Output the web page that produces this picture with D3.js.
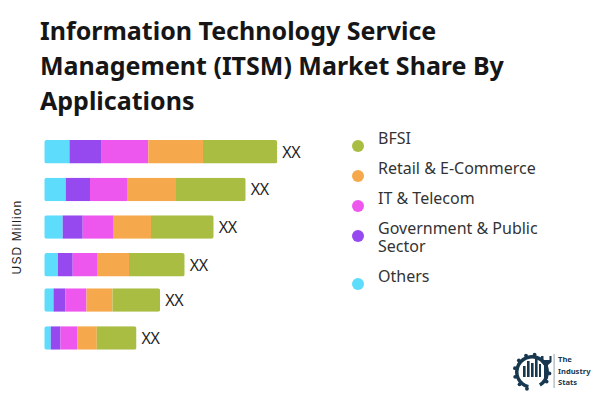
<!DOCTYPE html>
<html><head><meta charset="utf-8">
<script src="https://cdn.jsdelivr.net/npm/d3@7/dist/d3.min.js"></script>
<style>html,body{margin:0;padding:0;background:#fff}svg{display:block}</style>
</head><body><svg id="c" width="600" height="400"></svg>
<script>
const titleLines=["Information Technology Service","Management (ITSM) Market Share By","Applications"];
const categories=["A","B","C","D","E","F"];
const others=[25.2,21.4,18.4,13.7,9.2,6.5];
const government=[32.2,24.3,20,14.7,12,9.7];
const itTelecom=[46.6,37,31,25,21,17];
const retail=[54.7,49,37.3,31.3,26,19.3];
const bfsi=[74.3,69.7,62.7,55.7,47.7,39.7];
const labels=["XX","XX","XX","XX","XX","XX"];
const legendLines=[["BFSI"],["Retail & E-Commerce"],["IT & Telecom"],["Government & Public","Sector"],["Others"]];
const colors=["#5ddcfb","#9549ee","#ee57ee","#f6a94c","#a8bd42"];
const legendColors=["#a8bd42","#f6a94c","#ee57ee","#9549ee","#5ddcfb"];
const font="'Noto Sans','Open Sans',sans-serif";
const svg=d3.select("#c");
const ink="#1f1f1f";

svg.append("g").selectAll("text").data(titleLines).join("text")
 .attr("x",40).attr("y",(d,i)=>40+i*34.8)
 .attr("font-family",font).attr("font-weight",700).attr("font-size",25).attr("fill","#161616").text(d=>d);

const x=d3.scaleLinear().domain([0,233]).range([44.3,277.3]);
const y=d3.scaleOrdinal().domain(categories).range([140,177.7,215.3,253,288.3,326.2]);
const bandH=23.5;
const rows=categories.map((c,i)=>({c,Others:others[i],G:government[i],I:itTelecom[i],R:retail[i],B:bfsi[i]}));
const stack=d3.stack().keys(["Others","G","I","R","B"])(rows);
const defs=svg.append("defs");
rows.forEach((r,i)=>{
 defs.append("clipPath").attr("id","b"+i).append("rect")
  .attr("x",x(0)).attr("y",y(r.c)).attr("width",x(r.Others+r.G+r.I+r.R+r.B)-x(0)).attr("height",bandH).attr("rx",2.5);
});
stack.forEach((s,k)=>{
 svg.append("g").selectAll("rect").data(s).join("rect")
  .attr("x",d=>x(d[0])).attr("y",d=>y(d.data.c)).attr("width",d=>x(d[1])-x(d[0])).attr("height",bandH)
  .attr("fill",colors[k]).attr("clip-path",(d,i)=>`url(#b${i})`);
});
svg.append("g").selectAll("text").data(rows).join("text")
 .attr("x",d=>x(d.Others+d.G+d.I+d.R+d.B)+5).attr("y",d=>y(d.c)+bandH/2+6)
 .attr("font-family",font).attr("font-size",16).attr("letter-spacing",-0.3).attr("fill",ink).text((d,i)=>labels[i]);

svg.append("text").attr("transform","translate(21,237) rotate(-90)").attr("text-anchor","middle")
 .attr("font-family","'Liberation Sans',sans-serif").attr("font-size",12).attr("letter-spacing",1.1).attr("fill",ink).text("USD Million");

const lgY=[146,176,206,236,284];
const lgT=[144,174,204,234,282];
const lg=svg.append("g");
legendLines.forEach((ls,i)=>{
 lg.append("circle").attr("cx",358).attr("cy",lgY[i]).attr("r",6).attr("fill",legendColors[i]);
 const t=lg.append("text").attr("font-family",font).attr("font-size",16).attr("fill","#333");
 ls.forEach((s,j)=>t.append("tspan").attr("x",378).attr("y",lgT[i]+j*18).text(s));
});

// logo
const navy="#17384f";
const logo=svg.append("g");
const gear=d3.arc().innerRadius(13.5).outerRadius(17).startAngle(-2.9).endAngle(2.6);
logo.append("path").attr("transform","translate(532,372)").attr("d",gear()).attr("fill",navy);
d3.range(-2.85,2.6,0.5).filter(a=>a<0.2||a>1.4).forEach(a=>{
 logo.append("circle").attr("cx",532+Math.sin(a)*17.5).attr("cy",372-Math.cos(a)*17.5).attr("r",1.9).attr("fill",navy);
});
[[523,366,2.6,11],[527,361,2.6,16],[531,363,2.6,14],[535,359,2.6,18],[539,364,2,13]].forEach(b=>{
 logo.append("rect").attr("x",b[0]).attr("y",b[1]).attr("width",b[2]).attr("height",b[3]).attr("fill",navy);
});
logo.append("path").attr("d","M541 356 L541 362 L544 365 L544 382 L548 378 L548 365 L551.5 362 L551.5 356 L549.5 356 L549.5 360 L543.5 360 L543.5 356 Z").attr("fill",navy);
logo.append("rect").attr("x",553.5).attr("y",354).attr("width",1.2).attr("height",34).attr("fill","#a9b3b9");
["The","Industry","Stats"].forEach((t,i)=>logo.append("text").attr("x",558).attr("y",362+i*11.7)
 .attr("font-family",font).attr("font-weight",700).attr("font-size",7.6).attr("fill",navy).text(t));
</script></body></html>
